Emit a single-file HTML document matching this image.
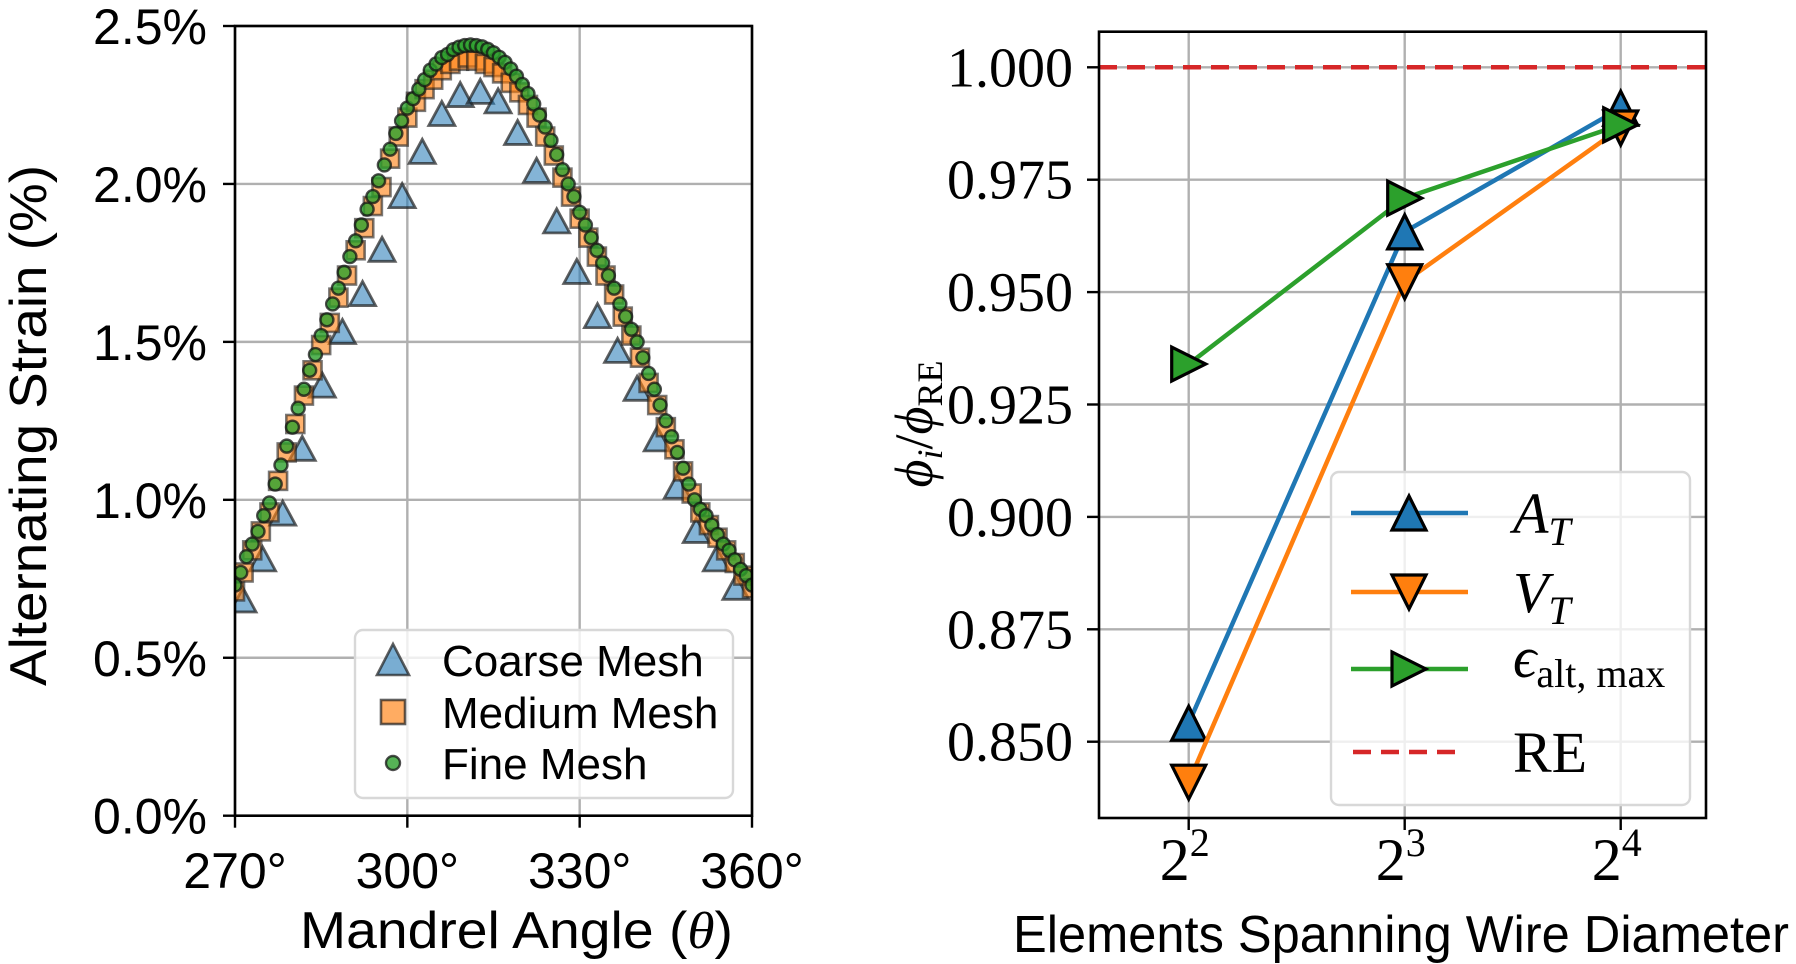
<!DOCTYPE html>
<html><head><meta charset="utf-8"><style>
html,body{margin:0;padding:0;background:#fff;}
svg{display:block;}
text{font-family:"Liberation Sans",sans-serif;}
.serif{font-family:"Liberation Serif",serif;}
</style></head>
<body>
<svg id="fig" width="1796" height="964" viewBox="0 0 1796 964" xmlns="http://www.w3.org/2000/svg">
<g id="left"></g>
<g id="right"></g>
</svg>
<script>
// ---- Left chart data ----
const coarseAngles=[271.4,274.8,278.3,281.7,285.2,288.7,292.2,295.6,299.1,302.6,306.0,309.2,312.7,315.8,319.2,322.5,326.0,329.5,333.1,336.6,340.0,343.5,347.0,350.3,353.8,357.2];
const coarseStrain=[0.68,0.81,0.955,1.16,1.36,1.53,1.65,1.79,1.96,2.10,2.22,2.28,2.29,2.26,2.16,2.04,1.88,1.72,1.58,1.47,1.35,1.19,1.04,0.90,0.81,0.72];
const mediumAngles=[270,271.5,273,274.5,276,277.5,279,280.5,282,283.5,285,286.5,288,289.5,291,292.5,294,295.5,297,298.5,300,301.5,303,304.5,306,307.5,309,310.5,312,313.5,315,316.5,318,319.5,321,322.5,324,325.5,327,328.5,330,331.5,333,334.5,336,337.5,339,340.5,342,343.5,345,346.5,348,349.5,351,352.5,354,355.5,357,358.5,360];
const mediumStrain=[0.71,0.77,0.84,0.90,0.96,1.06,1.15,1.24,1.33,1.41,1.49,1.56,1.64,1.71,1.79,1.86,1.93,1.99,2.08,2.15,2.21,2.26,2.30,2.33,2.36,2.38,2.39,2.40,2.39,2.38,2.37,2.35,2.32,2.29,2.25,2.21,2.15,2.09,2.02,1.96,1.89,1.83,1.77,1.71,1.65,1.58,1.52,1.45,1.37,1.30,1.23,1.16,1.09,1.02,0.96,0.92,0.88,0.84,0.80,0.76,0.72];
const fineAngles=[270,271,272,273,274,275,276,277,278,279,280,281,282,283,284,285,286,287,288,289,290,291,292,293,294,295,296,297,298,299,300,301,302,303,304,305,306,307,308,309,310,311,312,313,314,315,316,317,318,319,320,321,322,323,324,325,326,327,328,329,330,331,332,333,334,335,336,337,338,339,340,341,342,343,344,345,346,347,348,349,350,351,352,353,354,355,356,357,358,359,360];
const fineStrain=[0.73,0.77,0.82,0.86,0.90,0.95,0.99,1.05,1.11,1.17,1.23,1.29,1.35,1.41,1.46,1.52,1.57,1.62,1.67,1.72,1.77,1.82,1.87,1.92,1.96,2.01,2.06,2.11,2.16,2.20,2.24,2.27,2.30,2.33,2.36,2.38,2.40,2.41,2.425,2.433,2.438,2.44,2.438,2.434,2.426,2.415,2.401,2.385,2.364,2.341,2.315,2.286,2.253,2.218,2.18,2.138,2.093,2.045,2.00,1.96,1.91,1.87,1.83,1.79,1.75,1.71,1.67,1.62,1.58,1.54,1.50,1.45,1.40,1.35,1.30,1.25,1.20,1.15,1.10,1.05,1.00,0.97,0.95,0.92,0.89,0.86,0.84,0.81,0.78,0.76,0.73];
const leftXTicks=[270,300,330,360];
const leftYTicks=[0,0.5,1.0,1.5,2.0,2.5];
const leftYTickLabels=["0.0%","0.5%","1.0%","1.5%","2.0%","2.5%"];
const legendLeftLabels=["Coarse Mesh","Medium Mesh","Fine Mesh"];

// ---- Right chart data ----
const elemExp=[2,3,4];
const seriesAT=[0.8541,0.9634,0.9909];
const seriesVT=[0.841,0.9523,0.9865];
const seriesEps=[0.934,0.9709,0.9872];
const reValue=1.0;
const rightYTicks=[0.850,0.875,0.900,0.925,0.950,0.975,1.000];
const rightYTickLabels=["0.850","0.875","0.900","0.925","0.950","0.975","1.000"];

const NS="http://www.w3.org/2000/svg";
function mk(parent,tag,attrs){const e=document.createElementNS(NS,tag);for(const k in attrs)e.setAttribute(k,attrs[k]);parent.appendChild(e);return e;}

// ===== Left =====
const L=document.getElementById('left');
const lx0=235,lx1=752,ly0=26,ly1=815.7;
const lxs=v=>lx0+(v-270)/90*(lx1-lx0);
const lys=v=>ly1-(v/2.5)*(ly1-ly0);
leftXTicks.forEach((t,i)=>{
  const g=mk(L,'line',{x1:lxs(t),x2:lxs(t),y1:ly0,y2:ly1,stroke:'#b0b0b0','stroke-width':2.4});
  
  
  const tk=mk(L,'line',{x1:lxs(t),x2:lxs(t),y1:ly1,y2:ly1+12,stroke:'#000','stroke-width':2.4});
  
  
  const tx=mk(L,'text',{x:lxs(t),y:888,'font-size':50,'text-anchor':'middle'});
  tx.textContent=t+'°';
  
  
});
leftYTicks.forEach((t,i)=>{
  const g=mk(L,'line',{x1:lx0,x2:lx1,y1:lys(t),y2:lys(t),stroke:'#b0b0b0','stroke-width':2.4});
  
  
  const tk=mk(L,'line',{x1:lx0-12,x2:lx0,y1:lys(t),y2:lys(t),stroke:'#000','stroke-width':2.4});
  
  
  const tx=mk(L,'text',{x:207,y:lys(t)+18,'font-size':50,'text-anchor':'end'});
  tx.textContent=leftYTickLabels[i];
  
  
});
const clipL=mk(L,'clipPath',{id:'clipL'});
mk(clipL,'rect',{x:lx0,y:ly0,width:lx1-lx0,height:ly1-ly0});
const markL=mk(L,'g',{'clip-path':'url(#clipL)'});
coarseAngles.forEach((a,i)=>{
  const x=lxs(a),y=lys(coarseStrain[i]),s=13;
  const p=mk(markL,'polygon',{points:`${x},${y-s} ${x-s},${y+s*0.85} ${x+s},${y+s*0.85}`,fill:'rgba(31,119,180,0.55)',stroke:'rgba(30,30,30,0.7)','stroke-width':2.8});
  
  
});
mediumAngles.forEach((a,i)=>{
  const x=lxs(a),y=lys(mediumStrain[i]),s=9;
  const p=mk(markL,'rect',{x:x-s,y:y-s,width:2*s,height:2*s,fill:'rgba(255,127,14,0.6)',stroke:'rgba(30,30,30,0.6)','stroke-width':2.6});
  
  
});
fineAngles.forEach((a,i)=>{
  const p=mk(markL,'circle',{cx:lxs(a),cy:lys(fineStrain[i]),r:6.5,fill:'rgba(44,160,44,0.8)',stroke:'rgba(20,20,20,0.75)','stroke-width':2.4});
  
  
});
const frL=mk(L,'rect',{x:lx0,y:ly0,width:lx1-lx0,height:ly1-ly0,fill:'none',stroke:'#000','stroke-width':2.6});


// legend
const lgL=mk(L,'g',{});


mk(lgL,'rect',{x:355,y:630,width:378,height:168,rx:8,fill:'rgba(255,255,255,0.8)',stroke:'#d8d8d8','stroke-width':2.4});
const legY=[660,712,763];
mk(lgL,'polygon',{points:`393,${legY[0]-16} 377,${legY[0]+15} 409,${legY[0]+15}`,fill:'rgba(31,119,180,0.6)',stroke:'rgba(30,30,30,0.7)','stroke-width':2.6});
mk(lgL,'rect',{x:381,y:legY[1]-12,width:24,height:24,fill:'rgba(255,127,14,0.65)',stroke:'rgba(30,30,30,0.7)','stroke-width':2.6});
mk(lgL,'circle',{cx:393,cy:legY[2],r:7,fill:'rgba(44,160,44,0.8)',stroke:'rgba(20,20,20,0.75)','stroke-width':2.4});
legendLeftLabels.forEach((t,i)=>{
  const tx=mk(lgL,'text',{x:442,y:legY[i]+16,'font-size':44});
  tx.textContent=t;
  
  
});
const xtL=mk(L,'text',{x:300,y:948,'font-size':52,textLength:433,lengthAdjust:'spacingAndGlyphs'});
xtL.innerHTML='Mandrel Angle (<tspan class="serif" font-style="italic">θ</tspan>)';


const ytL=mk(L,'text',{x:-260,y:0,'font-size':52,textLength:521,lengthAdjust:'spacingAndGlyphs',transform:'translate(46,426) rotate(-90)'});
ytL.textContent='Alternating Strain (%)';



// ===== Right =====
const R=document.getElementById('right');
const rx0=1099,rx1=1706,ry0=31.7,ry1=818;
const rxs=e=>1188.7+(e-2)*216;
const rys=v=>67.3+(1-v)*4496;
elemExp.forEach(e=>{
  const g=mk(R,'line',{x1:rxs(e),x2:rxs(e),y1:ry0,y2:ry1,stroke:'#b0b0b0','stroke-width':2.4});
  
  
  const tk=mk(R,'line',{x1:rxs(e),x2:rxs(e),y1:ry1,y2:ry1+12,stroke:'#000','stroke-width':2.4});
  
  
  const tx=mk(R,'text',{x:rxs(e)-4,y:880,'font-size':60,'text-anchor':'middle',class:'serif'});
  tx.innerHTML='2<tspan dy="-24" font-size="40">'+e+'</tspan>';
  
  
});
rightYTicks.forEach((t,i)=>{
  const g=mk(R,'line',{x1:rx0,x2:rx1,y1:rys(t),y2:rys(t),stroke:'#b0b0b0','stroke-width':2.4});
  
  
  const tk=mk(R,'line',{x1:rx0-12,x2:rx0,y1:rys(t),y2:rys(t),stroke:'#000','stroke-width':2.4});
  
  
  const tx=mk(R,'text',{x:1073,y:rys(t)+19,'font-size':56,'text-anchor':'end',class:'serif'});
  tx.textContent=rightYTickLabels[i];
  
  
});
const re=mk(R,'line',{x1:rx0,x2:rx1,y1:rys(reValue),y2:rys(reValue),stroke:'#d62728','stroke-width':4.5,'stroke-dasharray':'18 10'});


function tri(g,x,y,dir,fill){
  const s=17;let pts;
  if(dir==='up')pts=`${x},${y-s} ${x-s},${y+s} ${x+s},${y+s}`;
  else if(dir==='down')pts=`${x},${y+s} ${x-s},${y-s} ${x+s},${y-s}`;
  else pts=`${x+s},${y} ${x-s},${y-s} ${x-s},${y+s}`;
  return mk(g,'polygon',{points:pts,fill:fill,stroke:'#000','stroke-width':3.2,'stroke-linejoin':'miter'});
}
const series=[[seriesAT,'#1f77b4','up','series-a-t'],[seriesVT,'#ff7f0e','down','series-v-t'],[seriesEps,'#2ca02c','right','series-eps-alt-max']];
series.forEach(([vals,col,dir,nm])=>{
  const g=mk(R,'g',{});
  
  
  const ln=mk(g,'polyline',{points:vals.map((v,i)=>rxs(elemExp[i])+','+rys(v)).join(' '),fill:'none',stroke:col,'stroke-width':4.5});
  
  
  vals.forEach((v,i)=>{
    const m=tri(g,rxs(elemExp[i]),rys(v),dir,col);
    
    
  });
});
const frR=mk(R,'rect',{x:rx0,y:ry0,width:rx1-rx0,height:ry1-ry0,fill:'none',stroke:'#000','stroke-width':2.6});


// legend right
const lgR=mk(R,'g',{});


mk(lgR,'rect',{x:1331,y:472,width:359,height:333,rx:8,fill:'rgba(255,255,255,0.8)',stroke:'#d8d8d8','stroke-width':2.4});
const rLegY=[513,592,669,752];
series.forEach(([vals,col,dir],i)=>{
  mk(lgR,'line',{x1:1351,x2:1468,y1:rLegY[i],y2:rLegY[i],stroke:col,'stroke-width':4.5});
  tri(lgR,1409,rLegY[i],dir,col);
});
mk(lgR,'line',{x1:1353,x2:1460,y1:rLegY[3],y2:rLegY[3],stroke:'#d62728','stroke-width':4.5,'stroke-dasharray':'18 10'});
const rl=[
 '<tspan font-style="italic">A</tspan><tspan font-style="italic" font-size="40" dy="12">T</tspan>',
 '<tspan font-style="italic">V</tspan><tspan font-style="italic" font-size="40" dy="12">T</tspan>',
 '<tspan font-style="italic">ϵ</tspan><tspan font-size="40" dy="10">alt, max</tspan>',
 'RE'];
rl.forEach((h,i)=>{
  const tx=mk(lgR,'text',{x:1513,y:rLegY[i]+(i===2?8:20),'font-size':58,class:'serif'});
  tx.innerHTML=h;
  
  
});
const xtR=mk(R,'text',{x:1013,y:952,'font-size':52,textLength:776,lengthAdjust:'spacingAndGlyphs'});
xtR.textContent='Elements Spanning Wire Diameter';


const ytR=mk(R,'text',{x:0,y:0,'font-size':54,'text-anchor':'middle',class:'serif',transform:'translate(932,424) rotate(-90)'});
ytR.innerHTML='<tspan font-style="italic">ϕ</tspan><tspan font-style="italic" font-size="36" dy="10">i</tspan><tspan dy="-10">/</tspan><tspan font-style="italic">ϕ</tspan><tspan font-size="36" dy="10">RE</tspan>';


</script>
</body></html>
